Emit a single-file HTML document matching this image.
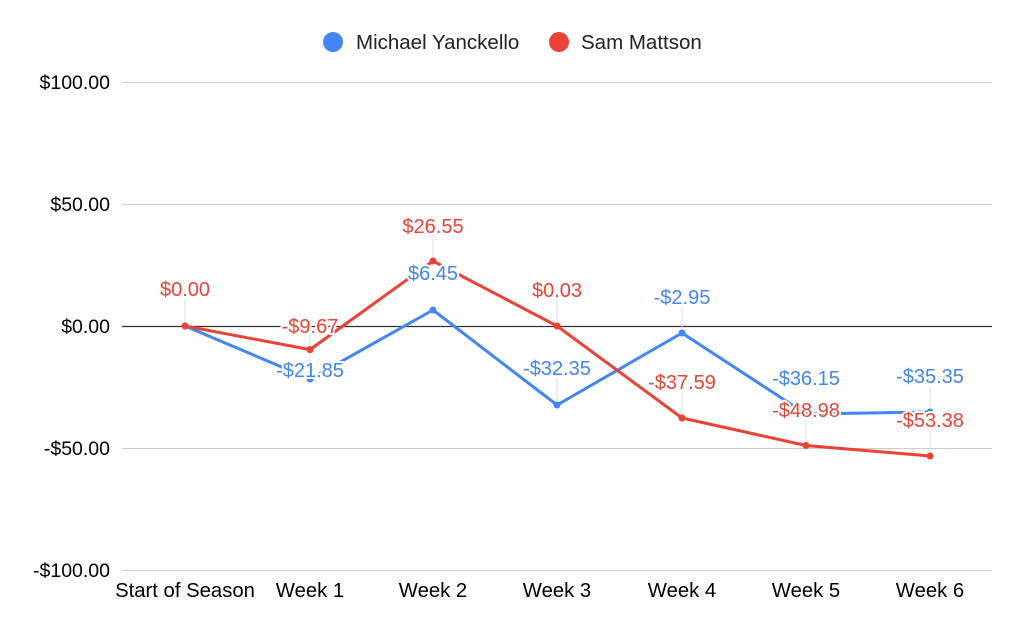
<!DOCTYPE html>
<html><head><meta charset="utf-8"><style>
body{margin:0;background:#fff;}
svg{display:block;font-family:"Liberation Sans",Arial,sans-serif;}
.lbl text{paint-order:stroke;stroke:#fff;stroke-width:4px;stroke-linejoin:round;}
</style></head><body>
<svg width="1024" height="633" viewBox="0 0 1024 633">
<rect width="1024" height="633" fill="#fff"/>
<g stroke="#cccccc" stroke-width="1">
<line x1="122" y1="82.5" x2="992" y2="82.5"/>
<line x1="122" y1="204.5" x2="992" y2="204.5"/>
<line x1="122" y1="448.5" x2="992" y2="448.5"/>
<line x1="122" y1="570.5" x2="992" y2="570.5"/>
</g>
<line x1="122" y1="326.5" x2="992" y2="326.5" stroke="#333" stroke-width="1.2"/>
<g font-size="19.5" fill="#000" text-anchor="end">
<text x="110" y="89">$100.00</text>
<text x="110" y="211">$50.00</text>
<text x="110" y="333">$0.00</text>
<text x="110" y="455">-$50.00</text>
<text x="110" y="577">-$100.00</text>
</g>
<g font-size="20.3" fill="#000" text-anchor="middle">
<text x="185" y="597">Start of Season</text>
<text x="310" y="597">Week 1</text>
<text x="433" y="597">Week 2</text>
<text x="557" y="597">Week 3</text>
<text x="682" y="597">Week 4</text>
<text x="806" y="597">Week 5</text>
<text x="930" y="597">Week 6</text>
</g>
<g stroke="#ddd" stroke-width="1">
<line x1="185" y1="300" x2="185" y2="326"/>
<line x1="310" y1="335" x2="310" y2="349"/>
<line x1="433" y1="235" x2="433" y2="261"/>
<line x1="557" y1="299" x2="557" y2="326"/>
<line x1="682" y1="392" x2="682" y2="418"/>
<line x1="806" y1="420" x2="806" y2="445"/>
<line x1="930" y1="430" x2="930" y2="456"/>
<line x1="310" y1="355" x2="310" y2="379"/>
<line x1="557" y1="378" x2="557" y2="405"/>
<line x1="682" y1="307" x2="682" y2="333"/>
<line x1="930" y1="386" x2="930" y2="412"/>
</g>
<polyline fill="none" stroke="#4285f4" stroke-width="3" stroke-linejoin="round" points="185,326 310,379 433,310 557,405 682,333 806,414 930,412"/>
<polyline fill="none" stroke="#ea4335" stroke-width="3" stroke-linejoin="round" points="185,326 310,349.6 433,261 557,326 682,418 806,445.5 930,456"/>
<g fill="#4285f4"><circle cx="185" cy="326" r="3.5"/><circle cx="310" cy="379" r="3.5"/><circle cx="433" cy="310" r="3.5"/><circle cx="557" cy="405" r="3.5"/><circle cx="682" cy="333" r="3.5"/><circle cx="806" cy="414" r="3.5"/><circle cx="930" cy="412" r="3.5"/></g>
<g fill="#ea4335"><circle cx="185" cy="326" r="3.5"/><circle cx="310" cy="349.6" r="3.5"/><circle cx="433" cy="261" r="3.5"/><circle cx="557" cy="326" r="3.5"/><circle cx="682" cy="418" r="3.5"/><circle cx="806" cy="445.5" r="3.5"/><circle cx="930" cy="456" r="3.5"/></g>
<g class="lbl" font-size="20" text-anchor="middle" fill="#ea4335">
<text x="185" y="296">$0.00</text>
<text x="310" y="333">-$9.67</text>
<text x="433" y="233">$26.55</text>
<text x="557" y="297">$0.03</text>
<text x="682" y="389">-$37.59</text>
<text x="806" y="417">-$48.98</text>
<text x="930" y="427">-$53.38</text>
</g>
<g class="lbl" font-size="20" text-anchor="middle" fill="#4285f4">
<text x="310" y="377">-$21.85</text>
<text x="433" y="280">$6.45</text>
<text x="557" y="375">-$32.35</text>
<text x="682" y="304">-$2.95</text>
<text x="806" y="385">-$36.15</text>
<text x="930" y="383">-$35.35</text>
</g>
<circle cx="333" cy="42" r="10" fill="#4285f4"/>
<text x="356" y="49" font-size="20.5" fill="#222">Michael Yanckello</text>
<circle cx="559" cy="42" r="10" fill="#ea4335"/>
<text x="581" y="49" font-size="20.5" fill="#222">Sam Mattson</text>
</svg>
</body></html>
